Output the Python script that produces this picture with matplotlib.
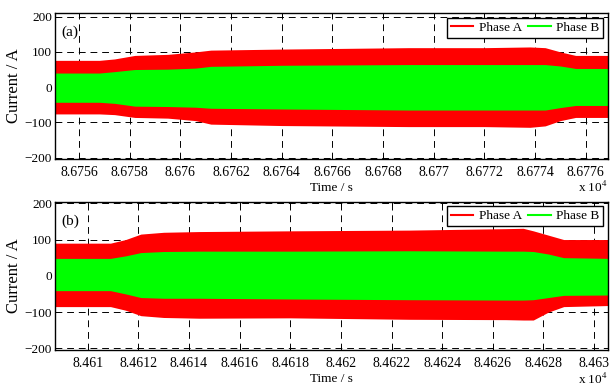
import matplotlib
matplotlib.use("Agg")
import matplotlib.pyplot as plt
from matplotlib.lines import Line2D
from matplotlib.ticker import FuncFormatter

plt.rcParams['font.family'] = ['Liberation Serif', 'DejaVu Serif']
plt.rcParams['mathtext.fontset'] = 'stix'

# --- panel (a): envelope of the phase currents ---
t_a = [86755.05, 86756.8, 86757.4, 86758.2, 86759.5, 86760.6, 86761.2, 86764.0,
       86769.0, 86772.0, 86773.8, 86774.4, 86775.0, 86775.6, 86776.9]
a_up_a = [76, 76, 80, 90, 93, 100, 105, 108, 112, 112, 114, 112, 100, 90, 90]
a_lo_a = [-76, -76, -78, -86, -88, -95, -105, -109, -112, -112, -114, -110, -95, -86, -86]
b_up_a = [40, 40, 44, 50, 51, 54, 59, 62, 64, 64, 64, 64, 60, 53, 53]
b_lo_a = [-43, -43, -46, -54, -55, -57, -60, -62, -65, -65, -65, -65, -58, -52, -52]
ticks_a = [86756, 86758, 86760, 86762, 86764, 86766, 86768, 86770, 86772, 86774, 86776]

# --- panel (b) ---
t_b = [84608.7, 84610.9, 84611.5, 84612.1, 84613.0, 84614.4, 84618.0, 84622.7,
       84626.5, 84627.2, 84627.6, 84628.2, 84628.8, 84630.6]
a_up_b = [90, 90, 100, 115, 120, 122, 124, 126, 130, 131, 124, 112, 100, 100]
a_lo_b = [-85, -85, -95, -110, -115, -117, -116, -120, -121, -122, -122, -100, -85, -82]
b_up_b = [48, 48, 55, 64, 67, 68, 68, 69, 68, 68, 67, 60, 50, 48]
b_lo_b = [-41, -41, -50, -60, -62, -62, -64, -66, -67, -67, -66, -60, -54, -53]
ticks_b = [84610, 84612, 84614, 84616, 84618, 84620, 84622, 84624, 84626, 84628, 84630]

yticks = [-200, -100, 0, 100, 200]

RED = '#ff0000'
GREEN = '#00ff00'

fig = plt.figure(figsize=(6.1, 3.86), dpi=100)
ax1 = fig.add_axes([0.0902, 0.588, 0.9065, 0.378])
ax2 = fig.add_axes([0.0902, 0.0925, 0.9065, 0.385])

panels = [
    (ax1, t_a, a_up_a, a_lo_a, b_up_a, b_lo_a, ticks_a, (86755.05, 86776.88), (-204, 210), '(a)'),
    (ax2, t_b, a_up_b, a_lo_b, b_up_b, b_lo_b, ticks_b, (84608.71, 84630.55), (-205.5, 204.4), '(b)'),
]

fmt = FuncFormatter(lambda v, pos: '%.6g' % (v / 1e4))

for ax, t, aup, alo, bup, blo, xt, xl, yl, tag in panels:
    ax.fill_between(t, alo, aup, color=RED, linewidth=0)
    ax.fill_between(t, blo, bup, color=GREEN, linewidth=0)
    ax.set_xlim(*xl)
    ax.set_ylim(*yl)
    ax.set_xticks(xt)
    ax.set_yticks(yticks)
    ax.xaxis.set_major_formatter(fmt)
    ax.set_axisbelow(True)
    ax.grid(True, color='black', linestyle=(0, (7, 5)), linewidth=0.7)
    ax.tick_params(direction='in', top=True, right=True, length=3, width=0.7,
                   labelsize=9.5, colors='black')
    ax.tick_params(axis='x', pad=5, labelsize=10)
    ax.tick_params(axis='y', pad=2)
    for s in ax.spines.values():
        s.set_linewidth(1.0)
        s.set_color('black')
    ax.set_xlabel('Time / s', fontsize=9.5, labelpad=2)
    ax.set_ylabel('Current / A', fontsize=12, labelpad=2)
    ax.text(0.012, 0.87, tag, transform=ax.transAxes, fontsize=11, va='center', ha='left')
    ax.text(1.0, -0.195, r'x 10$^{4}$', transform=ax.transAxes, fontsize=9.5,
            ha='right', va='center')
    handles = [Line2D([], [], color=RED, lw=1.5), Line2D([], [], color=GREEN, lw=1.5)]
    leg = ax.legend(handles, ['Phase A', 'Phase B'], loc='upper right', ncol=2,
                    fontsize=9.5, frameon=True, fancybox=False, borderaxespad=0.35,
                    handlelength=1.7, columnspacing=0.5, handletextpad=0.4,
                    borderpad=0.3)
    leg.get_frame().set_edgecolor('black')
    leg.get_frame().set_linewidth(1.0)
    leg.get_frame().set_alpha(1.0)

fig.savefig('out.png', dpi=100)
